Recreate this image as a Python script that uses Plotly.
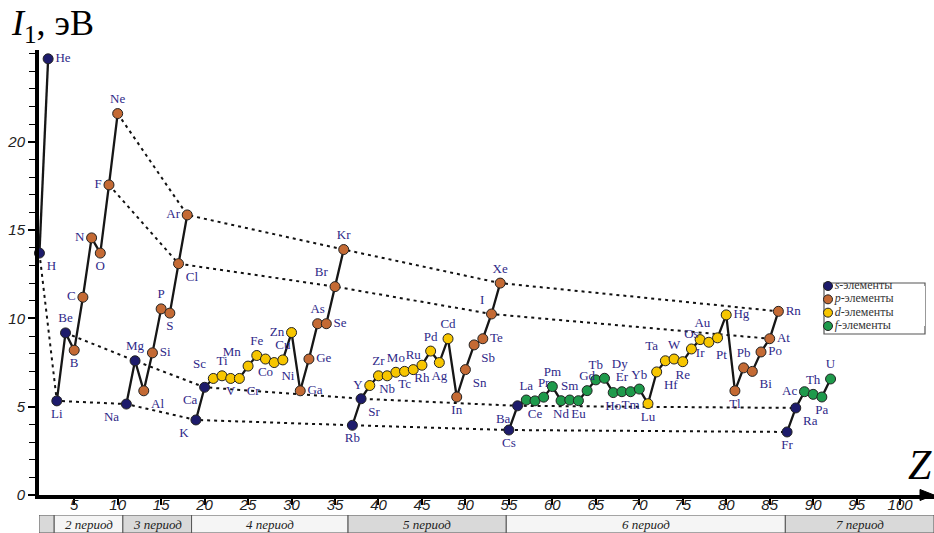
import plotly.graph_objects as go

# ---------------- data ----------------
labels = ["H", "He", "Li", "Be", "B", "C", "N", "O", "F", "Ne",
          "Na", "Mg", "Al", "Si", "P", "S", "Cl", "Ar",
          "K", "Ca", "Sc", "Ti", "V", "Cr", "Mn", "Fe", "Co", "Ni", "Cu", "Zn",
          "Ga", "Ge", "As", "Se", "Br", "Kr",
          "Rb", "Sr", "Y", "Zr", "Nb", "Mo", "Tc", "Ru", "Rh", "Pd", "Ag", "Cd",
          "In", "Sn", "Sb", "Te", "I", "Xe",
          "Cs", "Ba", "La", "Ce", "Pr", "Pm", "Nd", "Sm", "Eu", "Gd", "Tb", "Dy",
          "Ho", "Er", "Tm", "Yb", "Lu", "Hf", "Ta", "W", "Re", "Os", "Ir", "Pt",
          "Au", "Hg", "Tl", "Pb", "Bi", "Po", "At", "Rn",
          "Fr", "Ra", "Ac", "Th", "Pa", "U"]

ionization_ev = [13.7, 24.7, 5.33, 9.18, 8.2, 11.2, 14.56, 13.7, 17.56, 21.6,
                 5.15, 7.6, 5.9, 8.05, 10.54, 10.3, 13.1, 15.86,
                 4.25, 6.1, 6.6, 6.75, 6.6, 6.6, 7.3, 7.9, 7.7, 7.5, 7.65, 9.2,
                 5.9, 7.7, 9.7, 9.7, 11.8, 13.9,
                 3.95, 5.45, 6.2, 6.75, 6.75, 6.95, 7.0, 7.1, 7.35, 8.15, 7.5, 8.85,
                 5.55, 7.1, 8.5, 8.85, 10.25, 12.0,
                 3.68, 5.05, 5.38, 5.33, 5.54, 6.14, 5.34, 5.38, 5.34, 5.91, 6.52, 6.61,
                 5.8, 5.85, 5.85, 6.0, 5.17, 6.97, 7.6, 7.7, 7.55, 8.27, 8.8, 8.65,
                 8.9, 10.2, 5.9, 7.2, 7.0, 8.1, 8.85, 10.4,
                 3.57, 4.93, 5.85, 5.7, 5.55, 6.57]

blocks = ("ss" + "ss" + "pppppp" + "ss" + "pppppp" + "ss" + "dddddddddd" + "pppppp"
          + "ss" + "dddddddddd" + "pppppp" + "ss" + "ffffffffffffff" + "dddddddddd"
          + "pppppp" + "ss" + "ffff")

Z = list(range(1, len(labels) + 1))

periods = [(1, 2), (3, 10), (11, 18), (19, 36), (37, 54), (55, 86), (87, 92)]
groups = [[1, 3, 11, 19, 37, 55, 87],
          [4, 12, 20, 38, 56, 88],
          [9, 17, 35, 53, 85],
          [10, 18, 36, 54, 86]]

period_names = ["", "2 период", "3 период", "4 период", "5 период", "6 период", "7 период"]
period_edges = [0.95, 2.7, 10.6, 18.5, 36.5, 54.7, 86.8, 103.9]

x_ticks = list(range(5, 101, 5))
y_ticks = [0, 5, 10, 15, 20]

legend_names = ["<i>s</i>-элементы", "<i>p</i>-элементы", "<i>d</i>-элементы", "<i>f</i>-элементы"]
legend_blocks = ["s", "p", "d", "f"]

# ---------------- style ----------------
block_colors = {"s": "#1d1b6b", "p": "#c46a34", "d": "#f7c600", "f": "#1e9a4b"}
label_color = "#2e2888"
serif = "Liberation Serif"
sans = "Liberation Sans"

pos_codes = ["br", "mr", "bc", "tc", "bc", "ml", "ml", "bc", "ml", "tc",
             "bl", "tc", "br", "mr", "tc", "bc", "br", "ml",
             "bl", "bl", "tl", "tc", "bc", "br", "tl", "tc", "bc", "br", "tc", "ml",
             "mr", "mr", "tc", "mr", "tl", "tc",
             "bc", "br", "ml", "tc", "bc", "tc", "bc", "tc", "bc", "tc", "bc", "tc",
             "bc", "br", "br", "mr", "tl", "tc",
             "bc", "bl", "tc", "bc", "tc", "tc", "bc", "tc", "bc", "tc", "tc", "tr",
             "bc", "tc", "bc", "tc", "bc", "br", "tl", "tc", "bc", "tc", "bc", "br",
             "tl", "mr", "bc", "tc", "br", "mr", "mr", "mr",
             "bc", "br", "ml", "tc", "bc", "tc"]
pos_full = {"t": "top", "b": "bottom", "m": "middle",
            "l": "left", "c": "center", "r": "right"}
label_pos = [pos_full[c[0]] + " " + pos_full[c[1]] for c in pos_codes]

W, H = 934, 533
M_L, M_R, M_T, M_B = 39, 0, 50, 0
plot_h = H - M_T - M_B
main_bottom = (H - 495) / plot_h          # x axis (I = 0) at 495 px
strip_top = (H - 515) / plot_h

val = dict(zip(Z, ionization_ev))

fig = go.Figure()

# dotted group lines
for g in groups:
    fig.add_trace(go.Scatter(x=g, y=[val[z] for z in g], mode="lines",
                             line=dict(color="#111111", width=2, dash="3px,4px"),
                             hoverinfo="skip", showlegend=False))

# solid period lines
for a, b in periods:
    zz = list(range(a, b + 1))
    fig.add_trace(go.Scatter(x=zz, y=[val[z] for z in zz], mode="lines",
                             line=dict(color="#161616", width=2.3),
                             hoverinfo="skip", showlegend=False))

# points by block
for blk in "spdf":
    idx = [i for i in range(len(Z)) if blocks[i] == blk]
    fig.add_trace(go.Scatter(
        x=[Z[i] for i in idx], y=[ionization_ev[i] for i in idx],
        text=[labels[i] for i in idx], textposition=[label_pos[i] for i in idx],
        mode="markers+text", cliponaxis=False, showlegend=False,
        marker=dict(size=10, color=block_colors[blk], line=dict(color="#222222", width=1)),
        textfont=dict(family=serif, size=13, color=label_color)))

# custom legend (mini subplot)
fig.add_trace(go.Scatter(
    x=[0] * 4, y=[3, 2, 1, 0], text=legend_names, textposition="middle right",
    mode="markers+text", cliponaxis=False, showlegend=False,
    marker=dict(size=9, color=[block_colors[b] for b in legend_blocks],
                line=dict(color="#222222", width=1)),
    textfont=dict(family=serif, size=12, color="#333333"),
    xaxis="x3", yaxis="y3"))

shapes = []
annotations = []

# period strip
for k, name in enumerate(period_names):
    x0, x1 = period_edges[k], period_edges[k + 1]
    shapes.append(dict(type="rect", xref="x2", yref="y2", x0=x0, x1=x1, y0=0, y1=1,
                       fillcolor="#d9d9d9" if k % 2 == 0 else "#f5f5f5",
                       line=dict(color="#555555", width=1), layer="below"))
    if name:
        annotations.append(dict(xref="x2", yref="y2", x=(x0 + x1) / 2, y=0.5,
                                text="<i>" + name + "</i>", showarrow=False,
                                font=dict(family=serif, size=13, color="#222222")))

def px_x(p):
    return (p - M_L) / (W - M_L - M_R)

def px_y(p):
    return (H - M_B - p) / plot_h

# legend box
shapes.append(dict(type="rect", xref="paper", yref="paper",
                   x0=px_x(824), x1=px_x(925), y0=px_y(334), y1=px_y(283),
                   fillcolor="white", line=dict(color="#555555", width=1.2), layer="below"))

# x-axis arrow head
ah = 5.5 / plot_h
shapes.append(dict(type="path", xref="paper", yref="paper",
                   path=f"M {px_x(920)},{main_bottom + ah} L {px_x(934)},{main_bottom} "
                        f"L {px_x(920)},{main_bottom - ah} Z",
                   fillcolor="black", line=dict(color="black", width=1), layer="above"))

# axis titles
annotations.append(dict(xref="paper", yref="paper", x=px_x(9), y=1.0, xanchor="left",
                        yanchor="bottom", yshift=0, showarrow=False,
                        text="<i>I</i><sub>1</sub>, эВ",
                        font=dict(family=serif, size=36, color="black")))
annotations.append(dict(xref="paper", yref="paper", x=1.0, y=main_bottom, xanchor="right",
                        yanchor="bottom", yshift=5, showarrow=False,
                        text="<i>Z</i>", font=dict(family=serif, size=42, color="black")))

tickfont = dict(family=sans, size=15, color="#222222", style="italic")

fig.update_layout(
    width=W, height=H, autosize=False,
    margin=dict(l=M_L, r=M_R, t=M_T, b=M_B, pad=0, autoexpand=False),
    paper_bgcolor="white", plot_bgcolor="white",
    showlegend=False,
    shapes=shapes, annotations=annotations,
    xaxis=dict(range=[0.95, 103.9], domain=[0, 1], anchor="y", automargin=False,
               tickvals=x_ticks, ticks="outside", ticklen=6, tickwidth=1.5,
               ticklabelstandoff=-13,
               tickcolor="black", showline=True, linewidth=3.5, linecolor="black",
               showgrid=False, zeroline=False, tickfont=tickfont),
    yaxis=dict(range=[0, 25.2], domain=[main_bottom, 1], anchor="x", automargin=False,
               tickvals=y_ticks, ticks="outside", ticklen=7, tickwidth=1.5,
               tickcolor="black", showline=True, linewidth=4, linecolor="black",
               showgrid=False, zeroline=False, tickfont=tickfont,
               minor=dict(dtick=1, tick0=0, ticks="outside", ticklen=6,
                          tickwidth=1.2, tickcolor="black", showgrid=False)),
    xaxis2=dict(matches="x", anchor="y2", visible=False, showgrid=False, automargin=False),
    yaxis2=dict(range=[0, 1], domain=[0, strip_top], anchor="x2", visible=False,
                automargin=False),
    xaxis3=dict(range=[0, 1], domain=[px_x(828), px_x(925)], anchor="y3", visible=False,
                automargin=False),
    yaxis3=dict(range=[0, 3], domain=[px_y(326), px_y(286)], anchor="x3", visible=False,
                automargin=False),
)

fig.write_html("out.html", config={"displayModeBar": False},
               post_script="document.body.style.margin='0';document.body.style.padding='0';")
